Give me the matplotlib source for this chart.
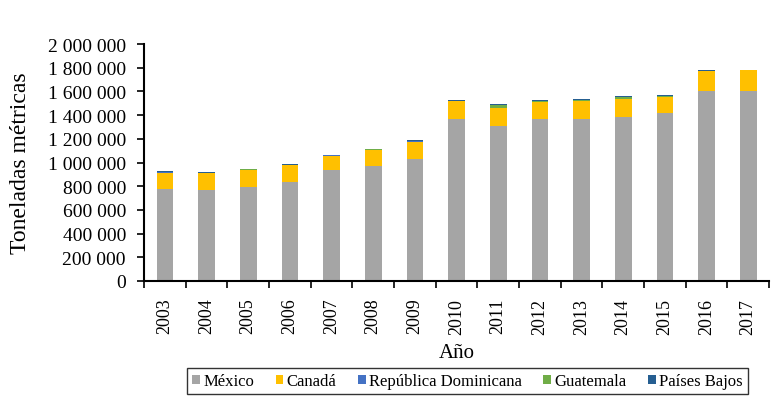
import matplotlib.pyplot as plt
import numpy as np

plt.rcParams['font.family'] = ['Liberation Serif', 'DejaVu Serif']

years = ['2003', '2004', '2005', '2006', '2007', '2008', '2009', '2010',
         '2011', '2012', '2013', '2014', '2015', '2016', '2017']
# toneladas métricas
mexico = [777000, 769000, 797000, 839000, 938000, 974000, 1031000, 1369000,
          1307000, 1369000, 1369000, 1388000, 1417000, 1603000, 1600000]
canada = [135000, 141000, 141000, 138000, 121000, 133000, 146000, 147000,
          155000, 141000, 146000, 150000, 135000, 166000, 177000]
dominicana = [4000, 2000, 2000, 2000, 1000, 1000, 1000, 1000,
              1000, 1000, 1000, 1000, 1000, 1000, 1000]
guatemala = [3000, 2000, 2000, 3000, 2000, 3000, 3000, 5000,
             22000, 9000, 14000, 17000, 12000, 6000, 2000]
paises_bajos = [10000, 4000, 4000, 6000, 3000, 4000, 5000, 7000,
                11000, 7000, 8000, 7000, 7000, 7000, 3000]

series = [('México', mexico, '#A5A5A5'),
          ('Canadá', canada, '#FFC000'),
          ('República Dominicana', dominicana, '#4472C4'),
          ('Guatemala', guatemala, '#70AD47'),
          ('Países Bajos', paises_bajos, '#255E91')]

fig = plt.figure(figsize=(7.82, 4.10), dpi=100)
ax = fig.add_axes([144 / 782, 1 - 282 / 410, 625 / 782, 237 / 410])

x = np.arange(len(years))
bottom = np.zeros(len(years))
for name, vals, col in series:
    ax.bar(x, vals, width=0.4, bottom=bottom, color=col, label=name)
    bottom += np.array(vals)

ax.set_xlim(-0.5, len(years) - 0.5)
ax.set_ylim(0, 2000000)
yt = np.arange(0, 2000001, 200000)
ax.set_yticks(yt)
ax.set_yticklabels(['{:,}'.format(v).replace(',', ' ') for v in yt], fontsize=14)

ax.set_xticks(np.arange(-0.5, len(years), 1.0))
ax.set_xticklabels([])
ax.set_xticks(x, minor=True)
ax.set_xticklabels(years, minor=True, rotation=90, fontsize=13)
ax.tick_params(axis='x', which='major', direction='out', length=5, width=1.2)
ax.tick_params(axis='x', which='minor', length=0, pad=12)
ax.tick_params(axis='y', direction='out', length=5, width=1.2, pad=8)

for s in ['top', 'right']:
    ax.spines[s].set_visible(False)
for s in ['left', 'bottom']:
    ax.spines[s].set_linewidth(1.5)
    ax.spines[s].set_color('black')

ax.set_ylabel('Toneladas métricas', fontsize=17, labelpad=12)
ax.set_xlabel('Año', fontsize=15, labelpad=7)

leg = fig.legend(loc='center', bbox_to_anchor=(467.5 / 782, 1 - 382 / 410), ncol=5,
                 fontsize=12, frameon=True, fancybox=False, edgecolor='black',
                 handlelength=0.45, handleheight=0.45, handletextpad=0.2,
                 columnspacing=1.3, borderpad=0.3, borderaxespad=0)
leg.get_frame().set_linewidth(1.0)

fig.savefig('out.png', dpi=100)
